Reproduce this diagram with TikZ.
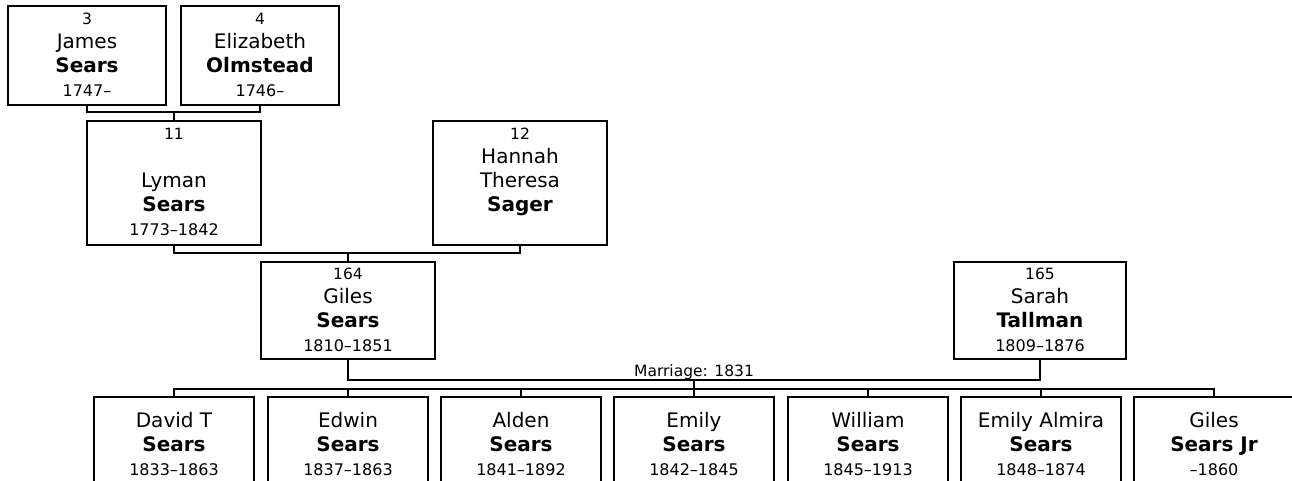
\documentclass[tikz,border=0pt]{standalone}
\usepackage{fontspec}
\setmainfont{DejaVu Sans}
\newcommand\pnum[1]{{\fontsize{15.5}{24}\selectfont #1\strut}}
\newcommand\pgiven[1]{{\fontsize{20}{24}\selectfont #1\strut}}
\newcommand\psur[1]{{\fontsize{20}{24}\selectfont\bfseries #1\strut}}
\newcommand\pdate[1]{{\fontsize{16}{24}\selectfont #1\strut}}
\tikzset{
  pbox/.style={draw, line width=2.4pt, fill=white, align=center, inner sep=0pt,
    font=\fontsize{20}{24}\selectfont, minimum height=99pt},
  link/.style={line width=2.4pt},
}
\begin{document}
\begin{tikzpicture}[x=1pt,y=-1pt]
\useasboundingbox (0,0) rectangle (1292,481);
\clip (0,0) rectangle (1292,481);
\fill[white] (0,0) rectangle (1292,481);
% generation 1
\node[pbox, minimum width=158pt] (p3) at (87,55.5) {\pnum{3}\\\pgiven{James}\\\psur{Sears}\\\pdate{1747–}};
\node[pbox, minimum width=158pt] (p4) at (260,55.5) {\pnum{4}\\\pgiven{Elizabeth}\\\psur{Olmstead}\\\pdate{1746–}};
% generation 2
\node[pbox, minimum width=174pt, minimum height=124pt] (p11) at (174,183) {\pnum{11}\\\strut\\\pgiven{Lyman}\\\psur{Sears}\\\pdate{1773–1842}};
\node[pbox, minimum width=174pt, minimum height=124pt] (p12) at (520,183) {\pnum{12}\\\pgiven{Hannah}\\\pgiven{Theresa}\\\psur{Sager}\\\strut};
% generation 3
\node[pbox, minimum width=174pt, minimum height=97pt] (p164) at (348,310.5) {\pnum{164}\\\pgiven{Giles}\\\psur{Sears}\\\pdate{1810–1851}};
\node[pbox, minimum width=172pt, minimum height=97pt] (p165) at (1040,310.5) {\pnum{165}\\\pgiven{Sarah}\\\psur{Tallman}\\\pdate{1809–1876}};
% children
\node[pbox, minimum width=160pt] (c1) at (174,446.5) {\pgiven{David T}\\\psur{Sears}\\\pdate{1833–1863}};
\node[pbox, minimum width=160pt] (c2) at (348,446.5) {\pgiven{Edwin}\\\psur{Sears}\\\pdate{1837–1863}};
\node[pbox, minimum width=160pt] (c3) at (521,446.5) {\pgiven{Alden}\\\psur{Sears}\\\pdate{1841–1892}};
\node[pbox, minimum width=160pt] (c4) at (694,446.5) {\pgiven{Emily}\\\psur{Sears}\\\pdate{1842–1845}};
\node[pbox, minimum width=160pt] (c5) at (868,446.5) {\pgiven{William}\\\psur{Sears}\\\pdate{1845–1913}};
\node[pbox, minimum width=160pt] (c6) at (1041,446.5) {\pgiven{Emily Almira}\\\psur{Sears}\\\pdate{1848–1874}};
\node[pbox, minimum width=160pt] (c7) at (1214,446.5) {\pgiven{Giles}\\\psur{Sears Jr}\\\pdate{–1860}};
% junction points
\coordinate (m1) at (174,112);
\coordinate (m2) at (348,253);
\coordinate (m3) at (694,380);
\coordinate (m4) at (694,389);
% connectors
\draw[link] (p3.south) |- (m1) -| (p4.south);
\draw[link] (m1) -- (m1 |- p11.north);
\draw[link] (p11.south) |- (m2) -| (p12.south);
\draw[link] (m2) -- (m2 |- p164.north);
\draw[link] (p164.south) |- (m3) -| (p165.south);
\node[anchor=base, inner sep=0pt, font=\fontsize{15.5}{18}\selectfont] (mlabel) at (694,376) {Marriage: 1831};
\draw[link] (m3) -- (m4);
\draw[link] (c1.north) |- (m4) -| (c7.north);
\foreach \c in {c2,c3,c4,c5,c6} \draw[link] (\c.north) -- (\c.north |- m4);
\end{tikzpicture}
\end{document}
